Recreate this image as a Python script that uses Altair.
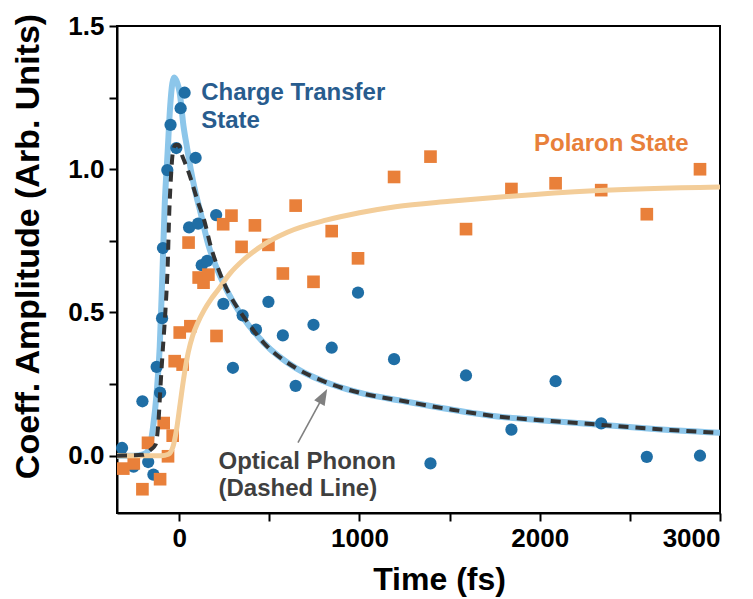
import altair as alt
import pandas as pd

# Charge-transfer state coefficient (circles)
ct_time = [-317, -253, -204, -172, -143, -125, -106, -95, -90, -66, -48, -16, 8, 30,
           91, 55, 105, 125, 155, 205, 245, 352, 426, 495, 575, 298, 646, 745, 846,
           992, 1192, 1394, 1591, 1843, 2088, 2341, 2594, 2889]
ct_amp = [0.027, -0.038, 0.19, -0.022, -0.066, 0.31, 0.22, 0.48, 0.725, 0.997, 1.155,
          1.074, 1.213, 1.267, 1.04, 0.797, 0.81, 0.665, 0.68, 0.84, 0.53, 0.49, 0.44,
          0.537, 0.42, 0.307, 0.244, 0.457, 0.377, 0.569, 0.337, -0.027, 0.28, 0.091,
          0.26, 0.113, -0.004, 0.0]

# Polaron state coefficient (squares)
pol_time = [-310, -252, -204, -173, -106, -86, -62, -36, -25, 19, 3, 62, 207, 52, 108,
            135, 162, 244, 290, 346, 420, 495, 575, 646, 745, 846, 992, 1192, 1394,
            1591, 1843, 2088, 2341, 2594, 2889]
pol_amp = [-0.045, -0.027, -0.117, 0.045, -0.082, 0.114, -0.002, 0.07, 0.33, 0.318,
           0.43, 0.452, 0.418, 0.744, 0.622, 0.604, 0.632, 0.808, 0.838, 0.729, 0.804,
           0.736, 0.636, 0.873, 0.607, 0.784, 0.689, 0.973, 1.044, 0.791, 0.931, 0.951,
           0.927, 0.843, 1.0]

# Fitted curves
ct_fit_time = [-345, -250, -200, -170, -145, -125, -108, -95, -80, -65, -50, -38, -28,
               -10, 2, 24, 45, 64, 90, 118, 160, 211, 270, 340, 469, 650, 800, 1000,
               1250, 1500, 1779, 2000, 2334, 2600, 3000]
ct_fit_amp = [0.0, 0.0, 0.005, 0.02, 0.1, 0.22, 0.38, 0.6, 0.88, 1.05, 1.22, 1.3, 1.32,
              1.3, 1.27, 1.15, 1.07, 1.0, 0.92, 0.85, 0.74, 0.65, 0.57, 0.495, 0.394,
              0.305, 0.26, 0.22, 0.19, 0.162, 0.136, 0.124, 0.108, 0.095, 0.08]

phonon_fit_time = [-345, -200, -160, -130, -115, -103, -92, -75, -64, -55, -45, -35, -20,
                   -5, 15, 52, 107, 135, 180, 218, 250, 286, 358, 469, 650, 800, 1000,
                   1250, 1500, 1779, 2000, 2334, 2600, 3000]
phonon_fit_amp = [0.0, 0.003, 0.02, 0.04, 0.12, 0.25, 0.36, 0.52, 0.66, 0.85, 0.98,
                  1.06, 1.085, 1.085, 1.05, 0.99, 0.88, 0.83, 0.72, 0.65, 0.6, 0.555,
                  0.485, 0.394, 0.305, 0.26, 0.22, 0.19, 0.162, 0.136, 0.124, 0.108,
                  0.095, 0.08]

pol_fit_time = [-345, -100, -60, -35, -15, 5, 25, 50, 75, 100, 140, 175, 211, 280, 357,
                452, 600, 820, 1000, 1200, 1500, 1800, 2300, 3000]
pol_fit_amp = [0.0, 0.0, 0.005, 0.03, 0.09, 0.18, 0.27, 0.36, 0.42, 0.46, 0.51, 0.545,
               0.575, 0.635, 0.684, 0.73, 0.78, 0.823, 0.848, 0.869, 0.888, 0.904,
               0.925, 0.938]

FONT = "Liberation Sans"

x_scale = alt.Scale(domain=[-345, 3000], nice=False, zero=False)
y_scale = alt.Scale(domain=[-0.2, 1.5], nice=False, zero=False)

x_axis = alt.Axis(
    values=[0, 500, 1000, 1500, 2000, 2500, 3000],
    format="d",
    labelExpr="datum.value % 1000 == 0 ? datum.label : ''",
    title="Time (fs)",
    titleX=322, titleY=76, titleBaseline="alphabetic", titleAnchor="start",
    titleAlign="center",
    titleFontSize=32,
    labelFontSize=26, labelPadding=4, tickSize=8,
)
y_axis = alt.Axis(
    values=[0, 0.25, 0.5, 0.75, 1.0, 1.25, 1.5],
    labelExpr="round(datum.value * 4) % 2 == 0 ? format(datum.value, '.1f') : ''",
    title="Coeff. Amplitude (Arb. Units)",
    titleX=-79, titleY=220, titleAngle=270, titleBaseline="alphabetic",
    titleAlign="center", titleAnchor="start",
    titleFontSize=34,
    labelFontSize=26, labelPadding=5, tickSize=8,
)


def X():
    return alt.X("t:Q", scale=x_scale, axis=x_axis)


def Y():
    return alt.Y("v:Q", scale=y_scale, axis=y_axis)


def frame(t, v):
    return pd.DataFrame({"t": t, "v": v})


ct_line = alt.Chart(frame(ct_fit_time, ct_fit_amp)).mark_line(
    color="#8CC6EA", strokeWidth=6, interpolate="monotone", clip=True
).encode(x=X(), y=Y())

ct_pts = alt.Chart(frame(ct_time, ct_amp)).mark_point(
    shape="circle", filled=True, color="#1F6EA5", size=150, opacity=1
).encode(x=X(), y=Y())

pol_pts = alt.Chart(frame(pol_time, pol_amp)).mark_point(
    shape="square", filled=True, color="#E9803A", size=160, opacity=1
).encode(x=X(), y=Y())

pol_line = alt.Chart(frame(pol_fit_time, pol_fit_amp)).mark_line(
    color="#F3CD99", strokeWidth=5, interpolate="monotone", clip=True
).encode(x=X(), y=Y())

phonon_line = alt.Chart(frame(phonon_fit_time, phonon_fit_amp)).mark_line(
    color="#333333", strokeWidth=4, strokeDash=[10, 7], interpolate="monotone", clip=True
).encode(x=X(), y=Y())

# Arrow pointing at the optical phonon curve
arrow_shaft = alt.Chart(pd.DataFrame({"t": [659], "v": [0.046], "t2": [794], "v2": [0.202]})).mark_rule(
    color="#808080", strokeWidth=1.6
).encode(x=X(), y=Y(), x2="t2:Q", y2="v2:Q")

arrow_head = alt.Chart(pd.DataFrame({"t": [794], "v": [0.202]})).mark_point(
    shape="M0,-1L0.6,0.6L-0.6,0.6Z", filled=True, color="#808080", size=400,
    angle=29, opacity=1
).encode(x=X(), y=Y())


def label(texts, ts, vs, color):
    return alt.Chart(pd.DataFrame({"t": ts, "v": vs, "txt": texts})).mark_text(
        align="left", baseline="alphabetic", font=FONT, fontWeight="bold",
        fontSize=24, color=color
    ).encode(x=X(), y=Y(), text="txt:N")


ct_label = label(["Charge Transfer", "State"], [122, 122], [1.242, 1.144], "#285C8E")
pol_label = label(["Polaron State"], [1968], [1.064], "#E8803A")
phonon_label = label(["Optical Phonon", "(Dashed Line)"], [218, 218], [-0.047, -0.14], "#3F3F3F")

chart = alt.layer(
    ct_line, ct_pts, pol_pts, pol_line, phonon_line,
    arrow_shaft, arrow_head, ct_label, pol_label, phonon_label
).properties(
    width=603, height=487,
    padding={"left": 117, "top": 26, "right": 33, "bottom": 86},
    autosize=alt.AutoSizeParams(type="none"),
    background="white",
).configure_view(
    stroke="black", strokeWidth=2
).configure_axis(
    grid=False,
    domainColor="black", domainWidth=2,
    tickColor="black", tickWidth=2,
    labelFont=FONT, labelFontWeight="bold", labelColor="black",
    titleFont=FONT, titleFontWeight="bold", titleColor="black",
)

chart.save("out.html", embed_options={"renderer": "svg", "actions": False})
